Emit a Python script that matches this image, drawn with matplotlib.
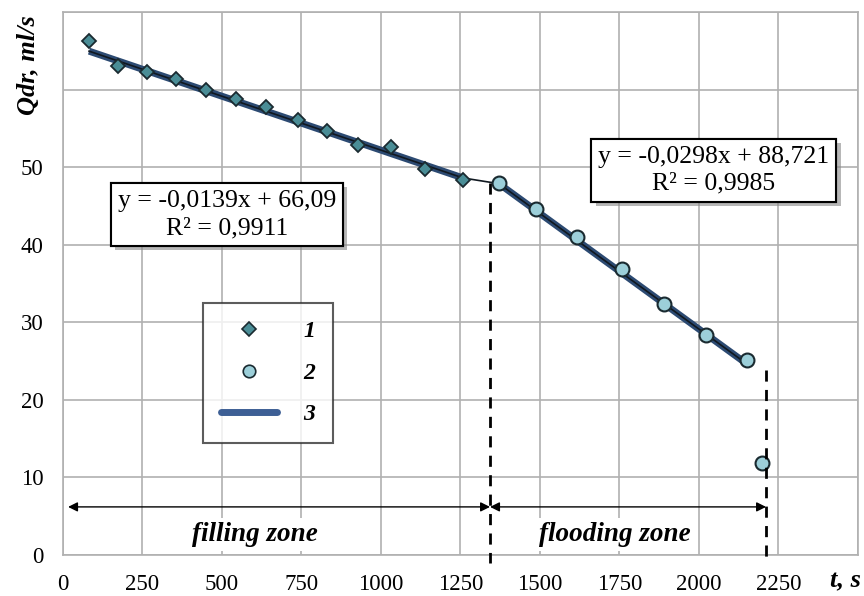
import matplotlib
matplotlib.use("Agg")
import matplotlib.pyplot as plt
import matplotlib.patheffects as pe
from matplotlib.lines import Line2D
import numpy as np

# Series 1: filling zone (diamonds)
t1 = [82, 173, 264, 355, 450, 544, 638, 739, 830, 928, 1031, 1138, 1258]
q1 = [66.3, 63.0, 62.3, 61.3, 59.9, 58.8, 57.8, 56.1, 54.7, 52.9, 52.6, 49.8, 48.4]
# Series 2: flooding zone (circles)
t2 = [1371, 1487, 1616, 1758, 1890, 2022, 2151, 2198]
q2 = [47.9, 44.6, 41.0, 36.9, 32.3, 28.3, 25.2, 11.9]
# Trend lines (3)
slope1, icpt1 = -0.0139, 66.09
slope2, icpt2 = -0.0298, 88.721
fit1_x = [82, 1258]
fit2_x = [1371, 2151]
eq1 = "y = -0,0139x + 66,09\nR² = 0,9911"
eq2 = "y = -0,0298x + 88,721\nR² = 0,9985"
x_ticks = [0, 250, 500, 750, 1000, 1250, 1500, 1750, 2000, 2250]
y_ticks = [0, 10, 20, 30, 40, 50]
zone_bounds = [0, 1343, 2211]
zone_names = ["filling zone", "flooding zone"]

serif = ["Liberation Serif", "DejaVu Serif"]
plt.rcParams['font.family'] = serif

fig = plt.figure(figsize=(8.64, 5.96), dpi=100)
ax = fig.add_axes([0.0729, 0.0688, 0.9201, 0.9111])
ax.set_xlim(0, 2500)
ax.set_ylim(0, 70)
ax.set_xticks(np.arange(0, 2501, 250))
ax.set_yticks(np.arange(0, 71, 10))
ax.grid(True, color="#b0b0b0", lw=1.2)
ax.set_axisbelow(True)
for s in ax.spines.values():
    s.set_color("#b0b0b0")
    s.set_linewidth(1.2)
ax.tick_params(axis="x", length=0, labelsize=16.5, pad=14)
ax.tick_params(axis="y", length=0, labelsize=16.5, pad=14)
ax.set_xticklabels([str(v) if v in x_ticks else "" for v in np.arange(0, 2501, 250)])
ax.set_yticklabels([str(v) if v in y_ticks else "" for v in np.arange(0, 71, 10)])

# trend lines
fx1 = np.array(fit1_x); fx2 = np.array(fit2_x)
fy1 = slope1 * fx1 + icpt1
fy2 = slope2 * fx2 + icpt2
trend_col = "#2c4a72"
ax.plot(fx1, fy1, color=trend_col, lw=5, solid_capstyle="butt", zorder=3)
ax.plot(fx2, fy2, color=trend_col, lw=5, solid_capstyle="butt", zorder=3)
ax.plot(np.r_[fx1, fx2], np.r_[fy1, fy2], color="#101820", lw=1.2, zorder=4)

# points
ax.plot(t1, q1, ls="none", marker="D", ms=7.5, mfc="#4a8d96", mec="#1a2a30", mew=1.3, zorder=5)
ax.plot(t2, q2, ls="none", marker="o", ms=10, mfc="#9ccfd9", mec="#1a2a30", mew=1.5, zorder=5)

# dashed verticals
ax.plot([zone_bounds[1]] * 2, [q2[0], -1], ls=(0, (4, 3)), color="black", lw=2, clip_on=False, zorder=6)
ax.plot([zone_bounds[2]] * 2, [23.9, -0.7], ls=(0, (4, 3)), color="black", lw=2, clip_on=False, zorder=6)

# zone arrows
ay = 6.2
ax.annotate("", xy=(16, ay), xytext=(zone_bounds[1], ay),
            arrowprops=dict(arrowstyle="<|-|>", color="black", lw=1, mutation_scale=14, shrinkA=0, shrinkB=0))
ax.annotate("", xy=(zone_bounds[1], ay), xytext=(zone_bounds[2], ay),
            arrowprops=dict(arrowstyle="<|-|>", color="black", lw=1, mutation_scale=14, shrinkA=0, shrinkB=0))
ax.text(604, 2.6, zone_names[0], ha="center", va="center", fontsize=19.5, fontweight="bold", style="italic",
        bbox=dict(facecolor="white", edgecolor="none", pad=3), zorder=7)
ax.text(1736, 2.6, zone_names[1], ha="center", va="center", fontsize=19.5, fontweight="bold", style="italic",
        bbox=dict(facecolor="white", edgecolor="none", pad=3), zorder=7)

# equation boxes
box = dict(boxstyle="square,pad=0.27", facecolor="white", edgecolor="black", lw=1.5)
t_a = ax.text(516, 43.9, eq1, ha="center", va="center", fontsize=18.5, linespacing=1.3, bbox=box, zorder=8)
t_b = ax.text(2047, 49.6, eq2, ha="center", va="center", fontsize=18.5, linespacing=1.3, bbox=box, zorder=8)
for t in (t_a, t_b):
    t.get_bbox_patch().set_path_effects([pe.withSimplePatchShadow(offset=(3, -3), shadow_rgbFace="#888888", alpha=0.6), pe.Normal()])

# legend
h = [Line2D([], [], ls="none", marker="D", ms=7, mfc="#4a8d96", mec="#1a2a30", mew=1.2),
     Line2D([], [], ls="none", marker="o", ms=9, mfc="#9ccfd9", mec="#1a2a30", mew=1.2),
     Line2D([], [], color="#3d5f95", lw=5, solid_capstyle="round")]
leg = ax.legend(h, ["1", "2", "3"], loc="upper left", bbox_to_anchor=(0.176, 0.464),
                prop=dict(size=17, weight="bold", style="italic"), frameon=True, fancybox=False,
                edgecolor="#333333", handlelength=2.4, handletextpad=1.1, labelspacing=0.85,
                borderpad=0.75, borderaxespad=0, markerfirst=True)
leg.get_frame().set_linewidth(1.5)
leg.set_zorder(9)

# axis labels
fig.text(0.033, 0.975, "Qdr, ml/s", rotation=90, ha="center", va="top", fontsize=19,
         fontweight="bold", style="italic")
fig.text(0.978, 0.025, "t, s", ha="center", va="center", fontsize=19, fontweight="bold", style="italic")

fig.savefig("out.png", dpi=100)
